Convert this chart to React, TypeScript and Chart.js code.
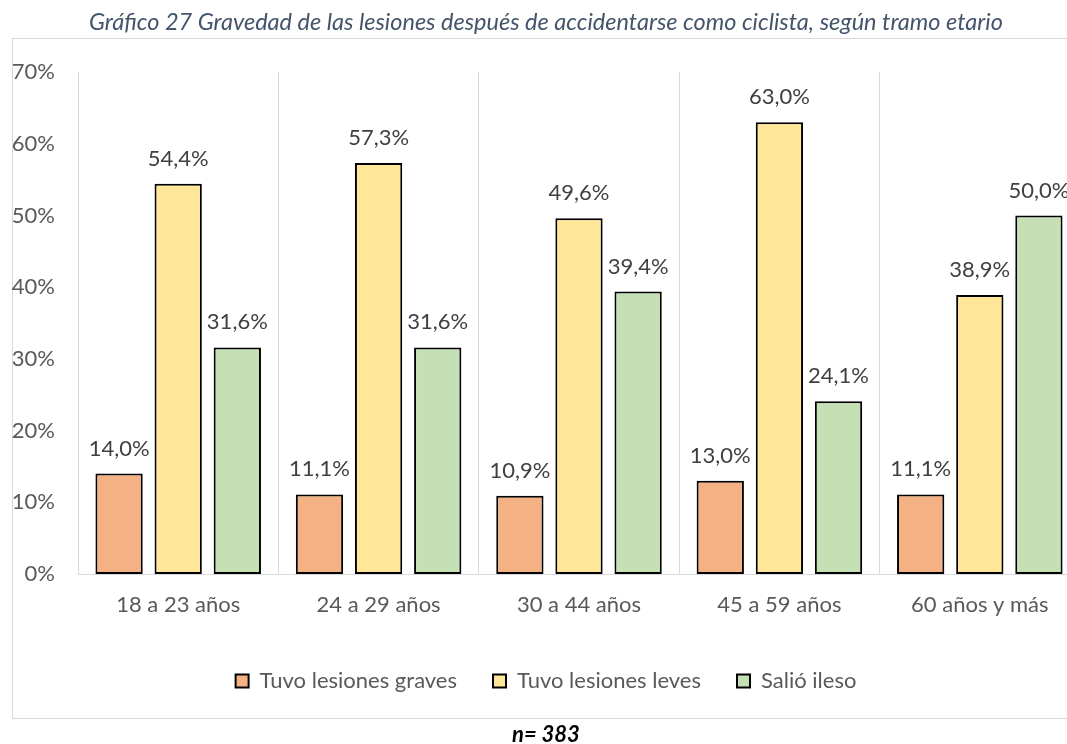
import React, { useEffect, useRef } from "react";
import { Chart, registerables } from "chart.js";

Chart.register(...registerables);

const categories = ["18 a 23 años", "24 a 29 años", "30 a 44 años", "45 a 59 años", "60 años y más"];
const seriesNames = ["Tuvo lesiones graves", "Tuvo lesiones leves", "Salió ileso"];
const graves = [14.0, 11.1, 10.9, 13.0, 11.1];
const leves = [54.4, 57.3, 49.6, 63.0, 38.9];
const ileso = [31.6, 31.6, 39.4, 24.1, 50.0];
const seriesColors = ["#F4B183", "#FFE699", "#C5E0B4"];
const yMin = 0;
const yMax = 70;
const yStep = 10;
const titleText = "Gráfico 27 Gravedad de las lesiones después de accidentarse como ciclista, según tramo etario";
const noteText = "n= 383";

const FONT = "Lato";

const fmt = (v: number) => v.toFixed(1).replace(".", ",") + "%";

const frameAndLabels = {
  id: "frameAndLabels",
  beforeDraw(chart: any) {
    const ctx = chart.ctx;
    ctx.save();
    ctx.strokeStyle = "#D9D9D9";
    ctx.lineWidth = 1;
    ctx.strokeRect(12.5, 38.5, 1078, 680);
    ctx.restore();
  },
  afterDatasetsDraw(chart: any) {
    const ctx = chart.ctx;
    ctx.save();
    ctx.font = `22px ${FONT}`;
    ctx.fillStyle = "#404040";
    ctx.textAlign = "center";
    ctx.textBaseline = "middle";
    chart.data.datasets.forEach((ds: any, i: number) => {
      const meta = chart.getDatasetMeta(i);
      meta.data.forEach((bar: any, j: number) => {
        ctx.fillText(fmt(ds.data[j]), bar.x, bar.y - 25);
      });
    });
    ctx.restore();
  },
};

export default function App() {
  const ref = useRef<HTMLCanvasElement | null>(null);
  useEffect(() => {
    if (!ref.current) return;
    const data = [graves, leves, ileso];
    const chart = new Chart(ref.current, {
      type: "bar",
      data: {
        labels: categories,
        datasets: seriesNames.map((name, i) => ({
          label: name,
          data: data[i],
          backgroundColor: seriesColors[i],
          borderColor: "#000000",
          borderWidth: 2,
          borderSkipped: false,
          categoryPercentage: 0.885,
          barPercentage: 0.8,
        })),
      },
      options: {
        responsive: false,
        animation: false,
        layout: { padding: { left: 12, right: 20, top: 0, bottom: 0 } },
        plugins: {
          title: {
            display: true,
            text: titleText,
            color: "#44546A",
            font: { family: FONT, size: 23.5, style: "italic", weight: "normal", lineHeight: 1.2 },
            padding: { top: 8, bottom: 35.8 },
          },
          subtitle: {
            display: true,
            position: "bottom",
            text: noteText,
            color: "#000000",
            font: { family: FONT, size: 22, style: "italic", weight: "bold", lineHeight: 0.8 },
            padding: { top: 24.4, bottom: 0 },
          },
          legend: {
            position: "bottom",
            labels: {
              color: "#595959",
              font: { family: FONT, size: 22 },
              boxWidth: 13,
              boxHeight: 13,
              padding: 36,
            },
          },
          tooltip: { enabled: false },
        },
        scales: {
          x: {
            grid: { display: true, color: "#D9D9D9", lineWidth: 1, drawTicks: false, offset: true },
            border: { display: true, color: "#D9D9D9", width: 1 },
            ticks: { color: "#595959", font: { family: FONT, size: 22 }, padding: 18, maxRotation: 0 },
            afterFit: (scale: any) => {
              scale.height = 60;
            },
          },
          y: {
            min: yMin,
            max: yMax,
            grid: { display: false, drawTicks: false },
            border: { display: false },
            ticks: {
              stepSize: yStep,
              color: "#595959",
              font: { family: FONT, size: 22 },
              padding: 23,
              callback: (v: any) => v + "%",
            },
            afterFit: (scale: any) => {
              scale.width = 66;
            },
          },
        },
      },
      plugins: [frameAndLabels],
    });
    return () => chart.destroy();
  }, []);

  return (
    <div style={{ position: "fixed", left: 0, top: 0, width: 1067, height: 744, overflow: "hidden", background: "#fff" }}>
      <canvas ref={ref} width={1100} height={744} style={{ width: 1100, height: 744, display: "block" }} />
    </div>
  );
}
